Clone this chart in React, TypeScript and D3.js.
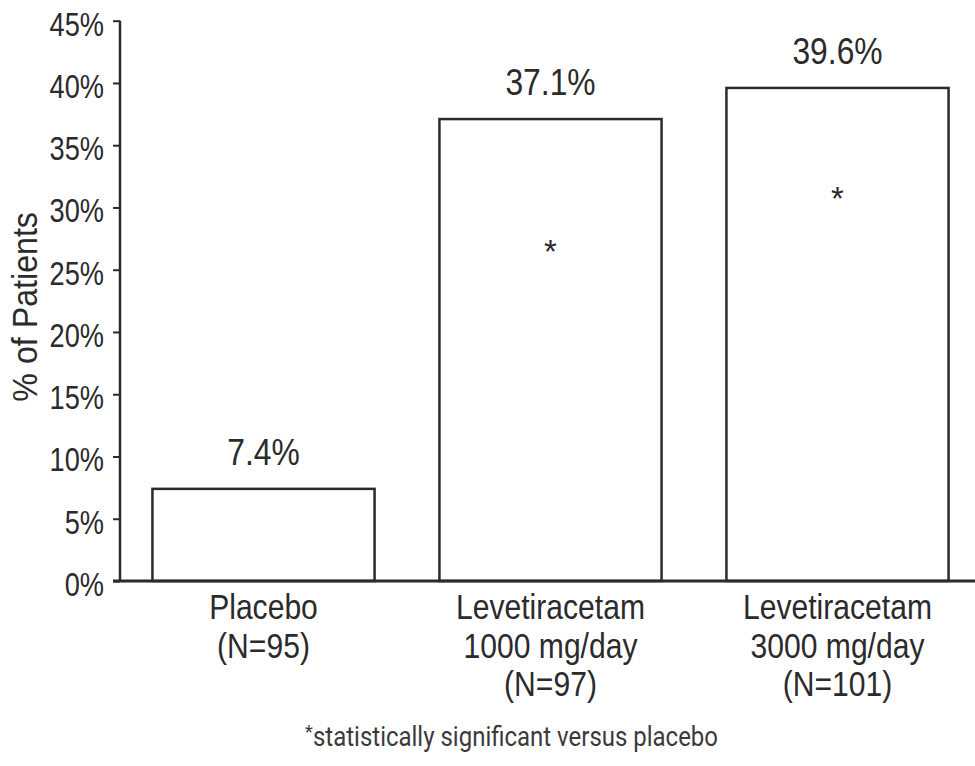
import React, { useRef, useEffect } from 'react';
import * as d3 from 'd3';

const categories = ['Placebo', 'Levetiracetam 1000', 'Levetiracetam 3000'];
const categoryLines = [
  ['Placebo', '(N=95)'],
  ['Levetiracetam', '1000 mg/day', '(N=97)'],
  ['Levetiracetam', '3000 mg/day', '(N=101)'],
];
const responderRates = [7.4, 37.1, 39.6];
const valueLabels = ['7.4%', '37.1%', '39.6%'];
// where the significance star sits inside each bar (in % units), null = none
const starLevels: (number | null)[] = [null, 26.5, 30.8];
const yTicks = [0, 5, 10, 15, 20, 25, 30, 35, 40, 45];
const yTitle = '% of Patients';
const footnote = 'statistically significant versus placebo';

const W = 975;
const H = 766;
const INK = '#2b2b2b';
const FONT = '"Liberation Sans", Arial, sans-serif';

const App: React.FC = () => {
  const ref = useRef<SVGSVGElement>(null);

  useEffect(() => {
    if (!ref.current) return;
    const svg = d3.select(ref.current);
    svg.selectAll('*').remove();

    const margin = { top: 20.7, left: 120 };

    const x = d3.scaleBand<string>()
      .domain(categories)
      .range([margin.left, margin.left + 3 * 287])
      .paddingInner(0.226)
      .paddingOuter(0.113);

    const y = d3.scaleLinear().domain([0, 45]).range([581, margin.top]);
    const cx = (i: number) => (x(categories[i]) as number) + x.bandwidth() / 2;

    // y axis ticks
    const yAxis = svg.append('g')
      .attr('transform', `translate(${margin.left},0)`)
      .call(d3.axisLeft(y).tickValues(yTicks).tickSize(7).tickFormat(() => ''));
    yAxis.select('.domain').remove();
    yAxis.selectAll('line').style('stroke', INK).style('stroke-width', 2);

    svg.append('line')
      .attr('x1', margin.left).attr('x2', margin.left)
      .attr('y1', y(45)).attr('y2', y(0))
      .style('stroke', INK).style('stroke-width', 2.5);

    // tick labels (condensed look via horizontal scale)
    svg.append('g').selectAll('text')
      .data(yTicks)
      .enter()
      .append('text')
      .attr('transform', d => `translate(104,${y(d) + 15}) scale(0.8,1)`)
      .attr('text-anchor', 'end')
      .style('font-family', FONT)
      .style('font-size', '34px')
      .style('fill', INK)
      .text(d => `${d}%`);

    // y title
    svg.append('text')
      .attr('transform', `translate(37,${y(22.5) + 6}) rotate(-90) scale(0.92,1)`)
      .attr('text-anchor', 'middle')
      .style('font-family', FONT)
      .style('font-size', '35px')
      .style('fill', INK)
      .text(yTitle);

    // bars
    svg.append('g').selectAll('rect')
      .data(responderRates)
      .enter()
      .append('rect')
      .attr('x', (d, i) => x(categories[i]) as number)
      .attr('y', d => y(d))
      .attr('width', x.bandwidth())
      .attr('height', d => y(0) - y(d))
      .style('fill', '#fff')
      .style('stroke', INK)
      .style('stroke-width', 2.5);

    // x axis line
    svg.append('line')
      .attr('x1', margin.left - 7).attr('x2', W)
      .attr('y1', y(0)).attr('y2', y(0))
      .style('stroke', INK).style('stroke-width', 3);

    // value labels
    svg.append('g').selectAll('text')
      .data(responderRates)
      .enter()
      .append('text')
      .attr('transform', (d, i) => `translate(${cx(i)},${y(d) - 24}) scale(0.86,1)`)
      .attr('text-anchor', 'middle')
      .style('font-family', FONT)
      .style('font-size', '37px')
      .style('fill', INK)
      .text((d, i) => valueLabels[i]);

    // significance stars
    const stars = starLevels
      .map((v, i) => ({ v, i }))
      .filter(s => s.v !== null);
    svg.append('g').selectAll('text')
      .data(stars)
      .enter()
      .append('text')
      .attr('x', d => cx(d.i))
      .attr('y', d => y(d.v as number) + 12)
      .attr('text-anchor', 'middle')
      .style('font-family', FONT)
      .style('font-size', '33px')
      .style('fill', INK)
      .text('*');

    // category labels
    const lineY = [619, 657.5, 696];
    categoryLines.forEach((lines, i) => {
      lines.forEach((ln, j) => {
        svg.append('text')
          .attr('transform', `translate(${cx(i)},${lineY[j]}) scale(0.86,1)`)
          .attr('text-anchor', 'middle')
          .style('font-family', FONT)
          .style('font-size', '35px')
          .style('fill', INK)
          .text(ln);
      });
    });

    // footnote
    svg.append('text')
      .attr('x', 305)
      .attr('y', 738)
      .style('font-family', '"Roboto", "DejaVu Sans", sans-serif')
      .style('font-size', '18px')
      .style('fill', '#3a3a3a')
      .text('*');
    svg.append('text')
      .attr('x', 313)
      .attr('y', 746)
      .attr('textLength', 405)
      .attr('lengthAdjust', 'spacingAndGlyphs')
      .style('font-family', '"Roboto", "DejaVu Sans", sans-serif')
      .style('font-size', '27px')
      .style('fill', '#3a3a3a')
      .text(footnote);
  }, []);

  return (
    <div style={{ position: 'absolute', left: 0, top: 0, width: W, height: H, background: '#fff' }}>
      <svg ref={ref} width={W} height={H}></svg>
    </div>
  );
};

export default App;
